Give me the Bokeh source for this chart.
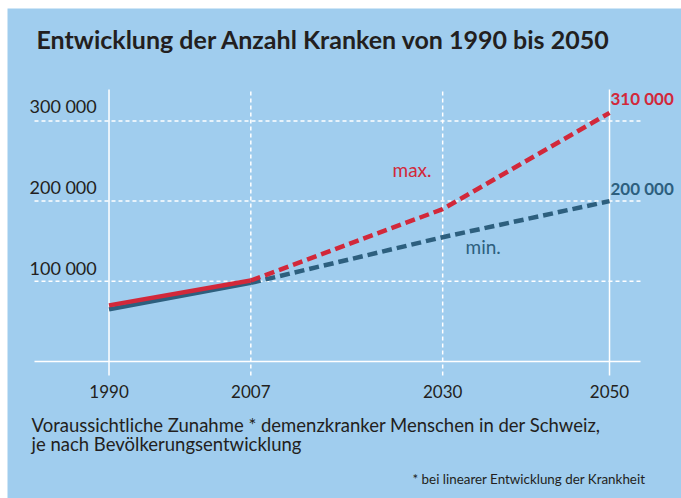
from bokeh.plotting import figure
from bokeh.models import Range1d, Label
from bokeh.embed import file_html
from bokeh.resources import INLINE

# ---- data ----
years = [1990, 2007, 2030, 2050]
year_labels = ["1990", "2007", "2030", "2050"]
min_vals = [65000, 98000, 155000, 200000]
max_vals = [70000, 101000, 190000, 310000]
grid_vals = [100000, 200000, 300000]
grid_labels = ["100 000", "200 000", "300 000"]
solid_years = [1990, 2050]
dashed_years = [2007, 2030]

W, H = 681, 498
ML, MT = 7, 8            # white margin (as in the reference picture)
FW, FH = W - ML, H - MT  # blue frame size
X0, X1 = 1977.83, 2058.63
YT, YB = 440150.0, -170823.0

def px(page_x):
    return X0 + (page_x - ML) / FW * (X1 - X0)

def py(page_y):
    return YT - (page_y - MT) / FH * (YT - YB)

BG = "#A0CDEE"
RED = "#D2283A"
BLUE = "#2D5F7E"
DARK = "#231F20"
FONT = "Lato"

p = figure(width=W, height=H, output_backend="svg", toolbar_location=None,
           x_range=Range1d(X0, X1), y_range=Range1d(YB, YT),
           min_border_left=ML, min_border_top=MT, min_border_right=0, min_border_bottom=0)
p.axis.visible = False
p.grid.visible = False
p.background_fill_color = BG
p.border_fill_color = "white"
p.outline_line_color = None

# horizontal grid lines
gx0, gx1 = px(34), px(640)
p.segment(x0=[gx0] * len(grid_vals), x1=[gx1] * len(grid_vals), y0=grid_vals, y1=grid_vals,
          line_color="white", line_width=1.5, line_dash="4 3")
# baseline
p.segment(x0=[gx0], x1=[gx1], y0=[0], y1=[0], line_color="white", line_width=1.5)
# vertical lines
vy0, vy1 = py(375), py(89)
p.segment(x0=solid_years, x1=solid_years, y0=[vy0] * 2, y1=[vy1] * 2,
          line_color="white", line_width=1.5)
p.segment(x0=dashed_years, x1=dashed_years, y0=[vy0] * 2, y1=[vy1] * 2,
          line_color="white", line_width=1.5, line_dash="4 3")

# series
p.line(years[:2], min_vals[:2], line_color=BLUE, line_width=4.5)
p.line(years[1:], min_vals[1:], line_color=BLUE, line_width=4.5, line_dash="10 5")
p.line(years[:2], max_vals[:2], line_color=RED, line_width=4.5)
p.line(years[1:], max_vals[1:], line_color=RED, line_width=4.5, line_dash="10 5")

def lab(x, page_y, text, size, color=DARK, align="left", style="normal"):
    # shift up to compensate for the rendered baseline offset
    y = py(page_y - 0.33 * size)
    p.add_layout(Label(x=x, y=y, text=text, text_font=FONT, text_font_size=f"{size}px",
                       text_color=color, text_align=align, text_baseline="alphabetic",
                       text_font_style=style))

# title
lab(px(36), 47, "Entwicklung der Anzahl Kranken von 1990 bis 2050", 25, style="bold")

# y tick labels (above gridlines)
ylab_page = {300000: 111, 200000: 192, 100000: 273}
for v, t in zip(grid_vals, grid_labels):
    lab(px(29), ylab_page[v], t, 18)

# x tick labels
for yr, t in zip(years, year_labels):
    lab(yr, 397, t, 17, align="center")

# series labels
lab(px(392), 175, "max.", 19, color=RED)
lab(px(465), 252, "min.", 19, color=BLUE)
lab(px(610), 104, "310 000", 17, color=RED, style="bold")
lab(px(610), 194, "200 000", 17, color=BLUE, style="bold")

# notes
lab(px(31), 431, "Voraussichtliche Zunahme * demenzkranker Menschen in der Schweiz,", 18.5)
lab(px(31), 450, "je nach Bevölkerungsentwicklung", 18.5)
lab(px(645), 483, "* bei linearer Entwicklung der Krankheit", 13.4, align="right")

open("out.html", "w").write(file_html(p, INLINE))
